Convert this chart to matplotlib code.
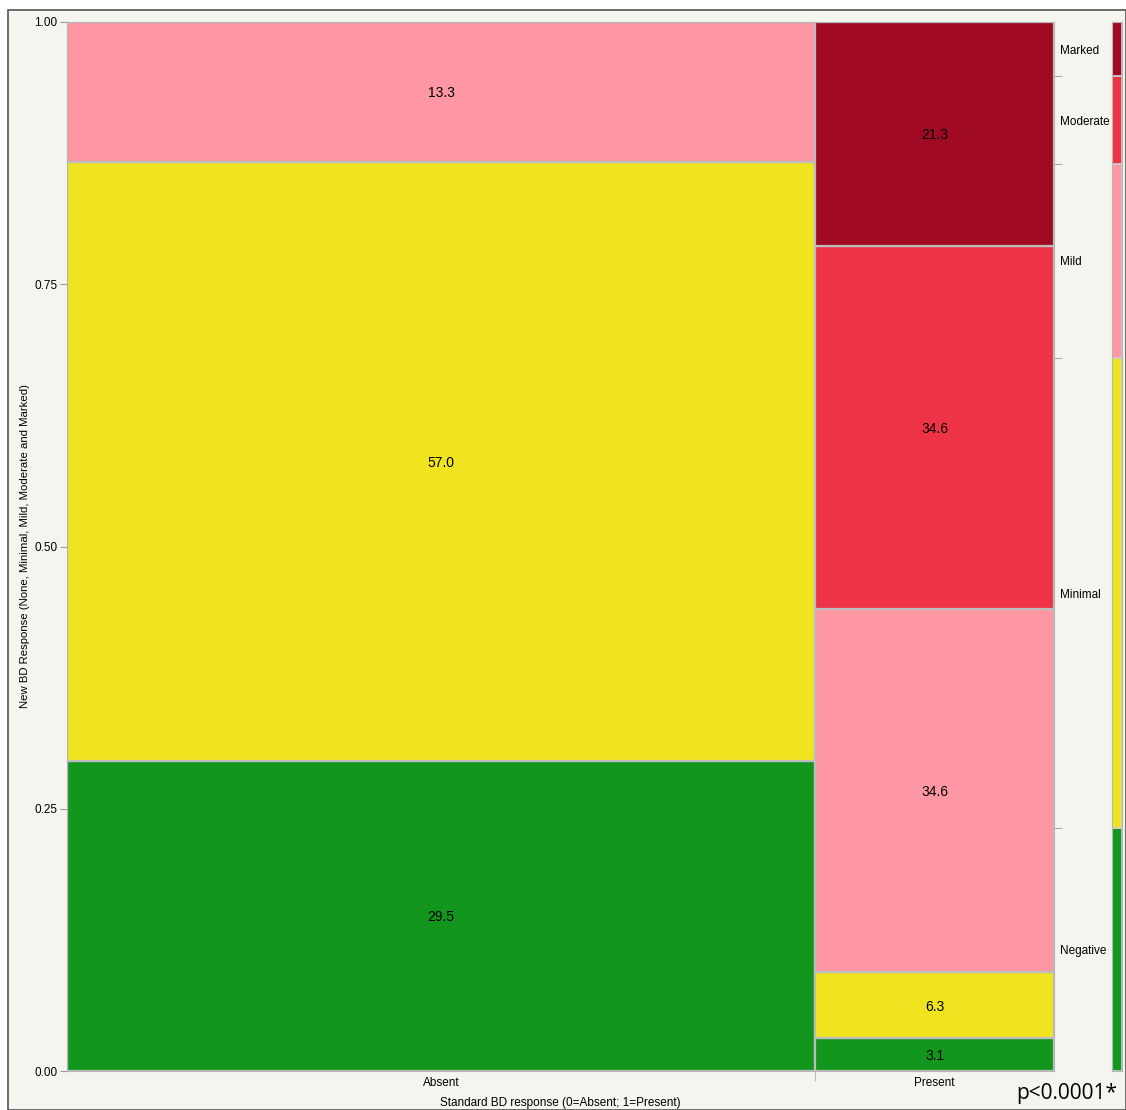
import matplotlib.pyplot as plt
from matplotlib.patches import Rectangle
import numpy as np

plt.rcParams['font.family'] = ['Liberation Sans', 'DejaVu Sans']

# standard response groups and their share of patients
groups = ['Absent', 'Present']
group_share = [0.758, 0.242]

# new response levels, bottom to top
levels = ['Negative', 'Minimal', 'Mild', 'Moderate', 'Marked']
level_colors = ['#13961e', '#efe41f', '#ff96a3', '#ee3346', '#a00a22']

# percentage of each group in each level
pct_absent = [29.5, 57.0, 13.3, 0.0, 0.0]
pct_present = [3.1, 6.3, 34.6, 34.6, 21.3]
pct_table = [pct_absent, pct_present]

bg = '#f5f5f0'
edge = '#bdbdbd'

fig = plt.figure(figsize=(11.26, 11.1), dpi=100)
fig.patch.set_facecolor('white')
# outer frame of the report panel
frame = Rectangle((8 / 1126, 0), 1 - 8 / 1126, 1 - 10 / 1110, transform=fig.transFigure,
                  facecolor=bg, edgecolor='#555555', lw=1.2, zorder=-5)
fig.patches.append(frame)

ax = fig.add_axes([67 / 1126, 1 - 1071 / 1110, (1054 - 67) / 1126, (1071 - 22) / 1110])
ax.set_facecolor(bg)
ax.set_xlim(0, 1)
ax.set_ylim(0, 1)

x0 = 0
for gi, share in enumerate(group_share):
    pcts = np.array(pct_table[gi])
    fracs = pcts / pcts.sum()
    y0 = 0
    for li, f in enumerate(fracs):
        if f <= 0:
            continue
        ax.add_patch(Rectangle((x0, y0), share, f, facecolor=level_colors[li],
                               edgecolor=edge, lw=1.6))
        ax.text(x0 + share / 2, y0 + f / 2, f'{pcts[li]:.1f}', ha='center',
                va='center_baseline', fontsize=10, color='black')
        y0 += f
    x0 += share

for s in ax.spines.values():
    s.set_color('#b5b5b5')

# y axis
ax.set_yticks([0, 0.25, 0.5, 0.75, 1.0])
ax.set_yticklabels(['0.00', '0.25', '0.50', '0.75', '1.00'])
ax.tick_params(axis='y', length=5, color='#999999', labelsize=8.5, pad=2)
ax.set_ylabel('New BD Response (None, Minimal, Mild, Moderate and Marked)', fontsize=8.2, labelpad=3)

# x axis: tick at group boundary, label at group centre
bounds = np.cumsum(group_share)[:-1]
centers = np.cumsum(group_share) - np.array(group_share) / 2
ax.set_xticks(bounds)
ax.set_xticklabels([''] * len(bounds))
ax.set_xticks(centers, minor=True)
ax.set_xticklabels(groups, minor=True)
ax.tick_params(axis='x', which='major', length=7, color='#bbbbbb')
ax.tick_params(axis='x', which='minor', length=0, labelsize=8.5, pad=4)
ax.set_xlabel('Standard BD response (0=Absent; 1=Present)', fontsize=8.5, labelpad=6)

# marginal distribution of the levels
marginal = np.zeros(len(levels))
for gi, share in enumerate(group_share):
    pcts = np.array(pct_table[gi])
    marginal += share * pcts / pcts.sum()
cum = np.concatenate([[0], np.cumsum(marginal)])
mids = (cum[:-1] + cum[1:]) / 2

axr = ax.twinx()
axr.set_ylim(0, 1)
axr.set_yticks(cum[1:-1])
axr.set_yticklabels([''] * (len(cum) - 2))
axr.set_yticks(mids, minor=True)
axr.set_yticklabels(levels, minor=True)
axr.tick_params(axis='y', which='major', length=6, color='#aaaaaa')
axr.tick_params(axis='y', which='minor', length=0, labelsize=8.5, pad=4)
for s in axr.spines.values():
    s.set_visible(False)

# thin marginal bar
axc = fig.add_axes([1112 / 1126, 1 - 1071 / 1110, 10 / 1126, (1071 - 22) / 1110])
axc.set_xlim(0, 1)
axc.set_ylim(0, 1)
axc.set_facecolor(bg)
for li in range(len(levels)):
    axc.add_patch(Rectangle((0, cum[li]), 1, marginal[li], facecolor=level_colors[li],
                            edgecolor='#d0d0d0', lw=1.2))
axc.set_xticks([])
axc.set_yticks([])
for s in axc.spines.values():
    s.set_color('#b5b5b5')

fig.text(1117 / 1126, 1 - 1093 / 1110, 'p<0.0001*', ha='right', va='center',
         fontsize=15, family=['Open Sans', 'DejaVu Sans'])

fig.savefig('out.png', dpi=100, facecolor=fig.get_facecolor())
